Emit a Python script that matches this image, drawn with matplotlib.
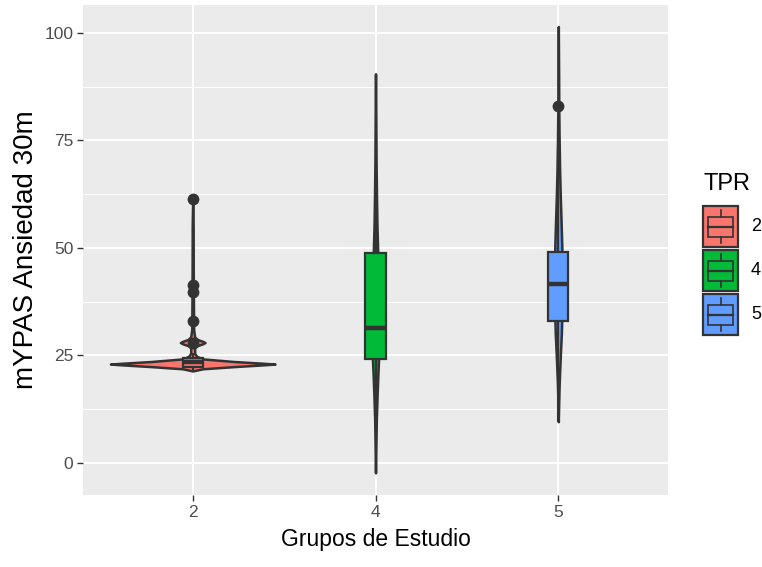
import matplotlib
matplotlib.use("Agg")
import matplotlib.pyplot as plt
from matplotlib.patches import Rectangle
import numpy as np

plt.rcParams['font.family'] = ['Liberation Sans', 'DejaVu Sans']

# ---------------- data ----------------
categories = ["2", "4", "5"]
colors = ["#F8766D", "#00BA38", "#619CFF"]

# violin profiles: values (y) and half-widths relative to the widest violin (1 = full width)
red_vals = [21.4, 21.9, 22.4, 22.8, 23.0, 23.2, 23.6, 24.2, 24.8, 25.5, 26.8, 27.3, 27.7, 28.0, 28.3, 28.7, 29.3, 31.0, 35.0, 45.0, 55.0, 61.6]
red_dens = [0.0, 0.122, 0.50, 0.85, 1.0, 0.85, 0.50, 0.122, 0.049, 0.024, 0.024, 0.06, 0.12, 0.15, 0.12, 0.06, 0.024, 0.012, 0.010, 0.007, 0.006, 0.0]

green_vals = [-2.3, 3.0, 10.0, 16.0, 20.0, 24.0, 30.0, 40.0, 49.0, 55.0, 62.0, 70.0, 80.0, 90.5]
green_dens = [0.0, 0.004, 0.010, 0.020, 0.028, 0.037, 0.043, 0.043, 0.027, 0.018, 0.012, 0.007, 0.004, 0.0]

blue_vals = [9.6, 14.0, 18.0, 22.0, 26.0, 30.0, 34.0, 40.0, 46.0, 50.0, 56.0, 62.0, 68.0, 75.0, 82.0, 90.0, 101.5]
blue_dens = [0.0, 0.005, 0.010, 0.018, 0.027, 0.037, 0.043, 0.046, 0.046, 0.043, 0.034, 0.024, 0.016, 0.010, 0.006, 0.004, 0.0]

# boxplot statistics
q1 = [22.4, 24.2, 33.0]
median = [23.5, 31.3, 41.6]
q3 = [24.3, 48.8, 49.1]
whisker_lo = [21.6, -2.3, 9.6]
whisker_hi = [25.5, 90.0, 73.0]
outliers = [[28.0, 33.1, 39.8, 41.4, 61.5], [], [83.0]]

y_ticks = [0, 25, 50, 75, 100]
x_title = "Grupos de Estudio"
y_title = "mYPAS Ansiedad 30m"
legend_title = "TPR"

# ---------------- figure ----------------
W, H = 762, 567
fig = plt.figure(figsize=(W / 100, H / 100), dpi=100)
fig.patch.set_facecolor("white")
pl, pr, pt, pb = 83, 668, 5, 495
ax = fig.add_axes([pl / W, 1 - pb / H, (pr - pl) / W, (pb - pt) / H])
ax.set_facecolor("#EBEBEB")
for s in ax.spines.values():
    s.set_visible(False)

ax.set_xlim(-0.6, 2.6)
ax.set_ylim(-7.45, 106.5)

# grid
for v in [12.5, 37.5, 62.5, 87.5]:
    ax.axhline(v, color="white", lw=0.7, zorder=0.5)
for v in y_ticks:
    ax.axhline(v, color="white", lw=1.4, zorder=0.6)
for i in range(len(categories)):
    ax.axvline(i, color="white", lw=1.4, zorder=0.6)

GRAY20 = "#333333"
max_half = 0.45
profiles = [(red_vals, red_dens), (green_vals, green_dens), (blue_vals, blue_dens)]
for i, (vals, dens) in enumerate(profiles):
    v = np.array(vals)
    d = np.array(dens) * max_half
    ax.fill_betweenx(v, i - d, i + d, facecolor=colors[i], edgecolor=GRAY20,
                     lw=1.8, zorder=2, joinstyle="round")

bw = 0.055
for i in range(len(categories)):
    ax.plot([i, i], [whisker_lo[i], q1[i]], color=GRAY20, lw=1.5, zorder=3, solid_capstyle="butt")
    ax.plot([i, i], [q3[i], whisker_hi[i]], color=GRAY20, lw=1.5, zorder=3, solid_capstyle="butt")
    ax.add_patch(Rectangle((i - bw, q1[i]), 2 * bw, q3[i] - q1[i], facecolor=colors[i],
                           edgecolor=GRAY20, lw=1.6, zorder=4))
    ax.plot([i - bw, i + bw], [median[i], median[i]], color=GRAY20, lw=3.2, zorder=5,
            solid_capstyle="butt")
    if outliers[i]:
        ax.plot([i] * len(outliers[i]), outliers[i], "o", color=GRAY20, ms=8.5, zorder=6,
                markeredgewidth=0)

ax.set_xticks(range(len(categories)))
ax.set_xticklabels(categories)
ax.set_yticks(y_ticks)
ax.set_yticklabels([str(t) for t in y_ticks])
ax.tick_params(axis="both", colors=GRAY20, length=4, width=1.0, labelsize=12.5,
               labelcolor="#4D4D4D", pad=3)
ax.set_xlabel(x_title, fontsize=16.5, color="black", labelpad=6)
ax.set_ylabel(y_title, fontsize=20, color="black", labelpad=4)

# ---------------- legend (drawn in pixel coords) ----------------
lax = fig.add_axes([0, 0, 1, 1], zorder=10)
lax.set_xlim(0, W)
lax.set_ylim(H, 0)
lax.axis("off")
lax.text(703, 190, legend_title, fontsize=17, ha="left", va="baseline", color="black")
key_x, key_w, key_h = 703, 35, 41
key_tops = [206, 250, 294]
for i, cat in enumerate(categories):
    top = key_tops[i]
    lax.add_patch(Rectangle((key_x, top), key_w, key_h, facecolor=colors[i],
                            edgecolor=GRAY20, lw=1.6))
    cx = key_x + key_w / 2
    bx0, bx1 = key_x + key_w * 0.14, key_x + key_w * 0.86
    by0, by1 = top + key_h * 0.28, top + key_h * 0.75
    lax.plot([cx, cx], [top + key_h * 0.1, by0], color=GRAY20, lw=1.2)
    lax.plot([cx, cx], [by1, top + key_h * 0.9], color=GRAY20, lw=1.2)
    lax.add_patch(Rectangle((bx0, by0), bx1 - bx0, by1 - by0, facecolor=colors[i],
                            edgecolor=GRAY20, lw=1.2))
    lax.plot([bx0, bx1], [(by0 + by1) / 2] * 2, color=GRAY20, lw=1.6)
    lax.text(751, top + key_h / 2, cat, fontsize=13, ha="left", va="center", color="black")

fig.savefig("out.png", dpi=100)
